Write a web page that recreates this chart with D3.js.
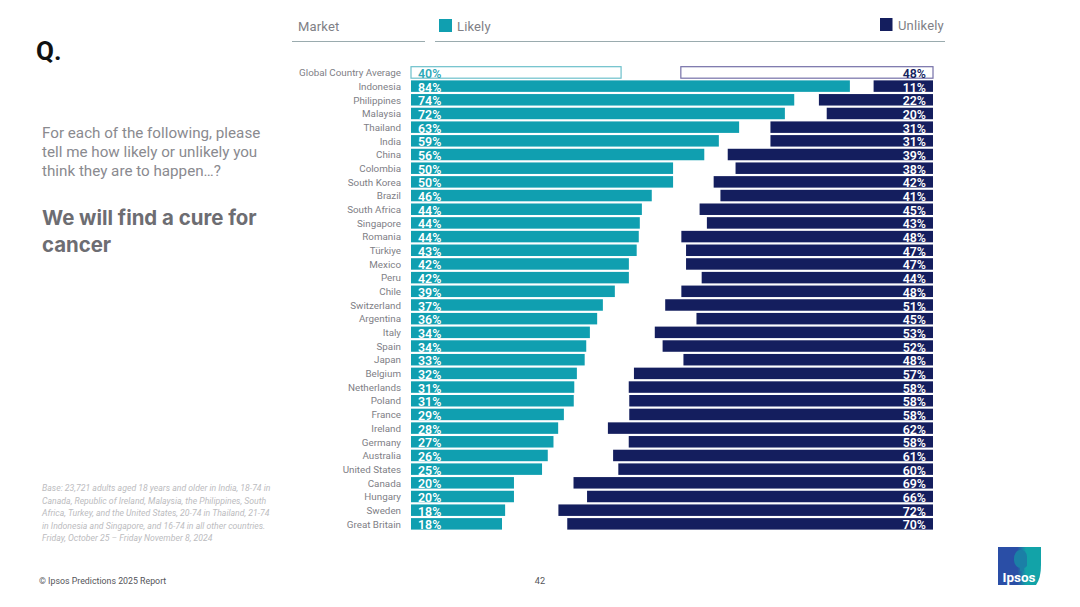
<!DOCTYPE html>
<html>
<head>
<meta charset="utf-8">
<script src="https://cdn.jsdelivr.net/npm/d3@7"></script>
<style>
	html, body { margin: 0; padding: 0; background: #fff; }
	svg { display: block; }
	text { font-family: Roboto, sans-serif; }
	.tick text { font-family: Roboto, sans-serif; }
</style>
</head>
<body>
<div id="chart"></div>
<script>
var markets = ["Global Country Average", "Indonesia", "Philippines", "Malaysia", "Thailand", "India", "China", "Colombia", "South Korea", "Brazil", "South Africa", "Singapore", "Romania", "Türkiye", "Mexico", "Peru", "Chile", "Switzerland", "Argentina", "Italy", "Spain", "Japan", "Belgium", "Netherlands", "Poland", "France", "Ireland", "Germany", "Australia", "United States", "Canada", "Hungary", "Sweden", "Great Britain"];

// bar lengths carry the decimals, labels show the rounded figure
var likely = [40.4, 84.4, 73.7, 71.9, 63.1, 59.2, 56.4, 50.4, 50.4, 46.3, 44.4, 44.0, 43.8, 43.4, 41.9, 41.9, 39.2, 36.9, 35.8, 34.4, 33.7, 33.4, 31.9, 31.4, 31.3, 29.4, 28.3, 27.4, 26.3, 25.2, 19.8, 19.8, 18.1, 17.5];
var unlikely = [48.4, 11.4, 21.9, 20.4, 31.2, 31.2, 39.4, 37.9, 42.1, 40.8, 44.8, 43.4, 48.3, 47.4, 47.4, 44.4, 48.3, 51.4, 45.4, 53.4, 51.9, 47.9, 57.4, 58.4, 58.3, 58.3, 62.4, 58.4, 61.4, 60.4, 69.0, 66.4, 71.9, 70.2];

var questionLines = ["For each of the following, please", "tell me how likely or unlikely you", "think they are to happen…?"];
var titleLines = ["We will find a cure for", "cancer"];
var baseLines = [
	"Base: 23,721 adults aged 18 years and older in India, 18-74 in",
	"Canada, Republic of Ireland, Malaysia, the Philippines, South",
	"Africa, Turkey, and the United States, 20-74 in Thailand, 21-74",
	"in Indonesia and Singapore, and 16-74 in all other countries.",
	"Friday, October 25 – Friday November  8, 2024"
];

var TEAL = "#109fb0", NAVY = "#141e5e";

var svg = d3.select("#chart").append("svg")
	.attr("width", 1080)
	.attr("height", 607);

var y = d3.scaleBand().domain(markets).range([65.6, 530.7]).paddingInner(0.16).paddingOuter(0.08);
var xLikely = d3.scaleLinear().domain([0, 100]).range([411, 931]);
var xUnlikely = d3.scaleLinear().domain([0, 100]).range([933, 412]);

// category labels
var axis = svg.append("g")
	.attr("transform", "translate(411,0.6)")
	.call(d3.axisLeft(y).tickSize(0).tickPadding(10));
axis.select(".domain").remove();
axis.selectAll("text")
	.attr("fill", "#808086")
	.attr("font-size", 9.8);

// likely bars
svg.append("g").selectAll("rect")
	.data(likely)
	.enter()
	.append("rect")
	.attr("x", xLikely(0))
	.attr("y", function(d, i) { return y(markets[i]); })
	.attr("width", function(d) { return xLikely(d) - xLikely(0); })
	.attr("height", y.bandwidth())
	.attr("fill", function(d, i) { return i === 0 ? "#fff" : TEAL; })
	.attr("stroke", function(d, i) { return i === 0 ? "#6cc0cb" : "none"; })
	.attr("stroke-width", 1.2);

// unlikely bars
svg.append("g").selectAll("rect")
	.data(unlikely)
	.enter()
	.append("rect")
	.attr("x", function(d) { return xUnlikely(d); })
	.attr("y", function(d, i) { return y(markets[i]); })
	.attr("width", function(d) { return xUnlikely(0) - xUnlikely(d); })
	.attr("height", y.bandwidth())
	.attr("fill", function(d, i) { return i === 0 ? "#fff" : NAVY; })
	.attr("stroke", function(d, i) { return i === 0 ? "#7570a8" : "none"; })
	.attr("stroke-width", 1.2);

// value labels
svg.append("g").selectAll("text")
	.data(likely)
	.enter()
	.append("text")
	.attr("x", 418)
	.attr("y", function(d, i) { return y(markets[i]) + y.bandwidth() - 0.2; })
	.attr("fill", function(d, i) { return i === 0 ? "#2fa9b8" : "#fff"; })
	.attr("font-size", 12.4)
	.attr("font-weight", 600)
	.text(function(d) { return Math.round(d) + "%"; });

svg.append("g").selectAll("text")
	.data(unlikely)
	.enter()
	.append("text")
	.attr("x", 926)
	.attr("y", function(d, i) { return y(markets[i]) + y.bandwidth() - 0.2; })
	.attr("text-anchor", "end")
	.attr("fill", function(d, i) { return i === 0 ? NAVY : "#fff"; })
	.attr("font-size", 12.4)
	.attr("font-weight", 600)
	.text(function(d) { return Math.round(d) + "%"; });

// header rules and legend
svg.append("line").attr("x1", 292).attr("x2", 425).attr("y1", 41.5).attr("y2", 41.5).attr("stroke", "#9aabae");
svg.append("line").attr("x1", 435).attr("x2", 945).attr("y1", 41.5).attr("y2", 41.5).attr("stroke", "#9aabae");

svg.append("text").attr("x", 298).attr("y", 31).attr("fill", "#808086").attr("font-size", 13).attr("letter-spacing", 0.15).text("Market");
svg.append("rect").attr("x", 439).attr("y", 19).attr("width", 13).attr("height", 13).attr("fill", TEAL);
svg.append("text").attr("x", 457).attr("y", 31).attr("fill", "#808086").attr("font-size", 13).attr("letter-spacing", 0.15).text("Likely");
svg.append("rect").attr("x", 880).attr("y", 18).attr("width", 12.5).attr("height", 13).attr("fill", NAVY);
svg.append("text").attr("x", 898).attr("y", 30).attr("fill", "#808086").attr("font-size", 13).attr("letter-spacing", 0.15).text("Unlikely");

// left column
svg.append("text").attr("x", 36).attr("y", 60).attr("fill", "#111").attr("font-size", 26).attr("font-weight", 700).text("Q.");

svg.append("g").selectAll("text")
	.data(questionLines)
	.enter()
	.append("text")
	.attr("x", 42)
	.attr("y", function(d, i) { return 138 + i * 19; })
	.attr("fill", "#8a8a8f")
	.attr("font-size", 15.2)
	.text(function(d) { return d; });

svg.append("g").selectAll("text")
	.data(titleLines)
	.enter()
	.append("text")
	.attr("x", 42)
	.attr("y", function(d, i) { return 225 + i * 27; })
	.attr("fill", "#6d6d72")
	.attr("font-size", 20.4)
	.attr("font-weight", 700)
	.style("font-family", "Inter, sans-serif")
	.text(function(d) { return d; });

svg.append("g").selectAll("text")
	.data(baseLines)
	.enter()
	.append("text")
	.attr("x", 42)
	.attr("y", function(d, i) { return 491 + i * 12.5; })
	.attr("fill", "#bcbcc0")
	.attr("font-size", 8.7)
	.attr("font-style", "italic")
	.text(function(d) { return d; });

// footer
svg.append("text").attr("x", 39).attr("y", 584).attr("fill", "#55555a").attr("font-size", 8.8).text("© Ipsos Predictions 2025 Report");
svg.append("text").attr("x", 540).attr("y", 584).attr("text-anchor", "middle").attr("fill", "#55555a").attr("font-size", 9.2).text("42");

// logo
var grad = svg.append("defs").append("linearGradient").attr("id", "logoFill");
grad.append("stop").attr("offset", "45%").attr("stop-color", "#2a4ea6");
grad.append("stop").attr("offset", "65%").attr("stop-color", "#12a3a8");
svg.append("path")
	.attr("d", "M998,547 H1041 V565 Q1041,578 1036,585 H998 Z")
	.attr("fill", "url(#logoFill)");
svg.append("path")
	.attr("d", "M1020,550 a6,7 0 0 1 7,7 v9 a7,7 0 0 1 -3,2 v3 h-4 v-3 a7,8 0 0 1 -6,-8 a6,9 0 0 1 6,-10 Z")
	.attr("fill", "#1b7fa6");
svg.append("text").attr("x", 1019).attr("y", 582).attr("text-anchor", "middle").attr("fill", "#fff").attr("font-size", 13.5).attr("font-weight", 700).text("Ipsos");
</script>
</body>
</html>
